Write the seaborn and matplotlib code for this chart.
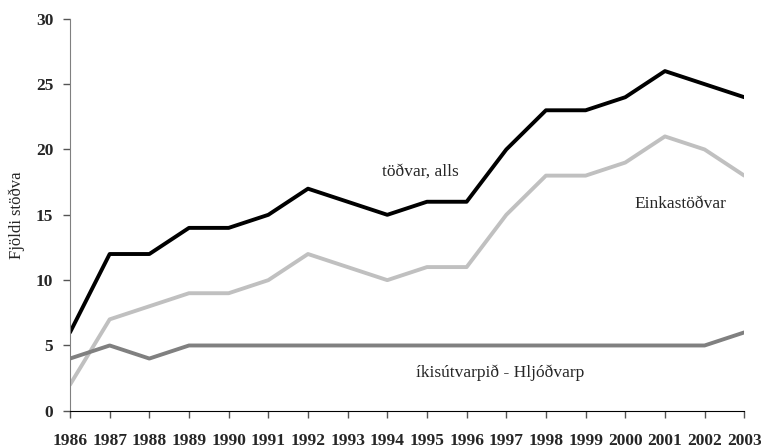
import pandas as pd
import matplotlib.pyplot as plt
import seaborn as sns

years = list(range(1986, 2004))
stodvar_alls = [6, 12, 12, 14, 14, 15, 17, 16, 15, 16, 16, 20, 23, 23, 24, 26, 25, 24]
einkastodvar = [2, 7, 8, 9, 9, 10, 12, 11, 10, 11, 11, 15, 18, 18, 19, 21, 20, 18]
hljodvarp = [4, 5, 4, 5, 5, 5, 5, 5, 5, 5, 5, 5, 5, 5, 5, 5, 5, 6]

df = pd.DataFrame({
    'ár': years * 3,
    'fjöldi': stodvar_alls + einkastodvar + hljodvarp,
    'röð': ['alls'] * 18 + ['einka'] * 18 + ['ruv'] * 18,
})

sns.set_style('white')
plt.rcParams['font.family'] = ['Liberation Serif', 'DejaVu Serif']

fig, ax = plt.subplots(figsize=(7.61, 4.48), dpi=100)
fig.subplots_adjust(left=0.092, right=0.978, bottom=0.083, top=0.958)

sns.lineplot(data=df, x='ár', y='fjöldi', hue='röð',
             palette={'alls': '#000000', 'einka': '#c0c0c0', 'ruv': '#808080'},
             linewidth=2.8, legend=False, ax=ax)

ax.set_xlim(1986, 2003)
ax.set_ylim(0, 30)
ax.set_xticks(years)
ax.set_xticklabels([str(y) for y in years], fontweight='bold', fontsize=12.5)
ax.set_yticks(range(0, 31, 5))
ax.set_yticklabels([str(v) for v in range(0, 31, 5)], fontweight='bold', fontsize=12.5)
ax.tick_params(axis='both', direction='out', length=5, width=1, color='#555555',
               bottom=True, left=True)
ax.tick_params(axis='x', pad=11)
ax.tick_params(axis='y', pad=7)
ax.set_xlabel('')
ax.set_ylabel('Fjöldi stöðva', fontsize=12, labelpad=8)

sns.despine(ax=ax)
ax.spines['left'].set_color('#808080')
ax.spines['bottom'].set_color('#000000')

ax.text(1994.83, 18.3, 'töðvar, alls', ha='center', va='center', fontsize=12.5)
ax.text(2001.4, 15.8, 'Einkastöðvar', ha='center', va='center', fontsize=12.5)
ax.text(1996.85, 2.9, 'íkisútvarpið - Hljóðvarp', ha='center', va='center', fontsize=12.5)

plt.savefig('out.png', dpi=100)
plt.close()
